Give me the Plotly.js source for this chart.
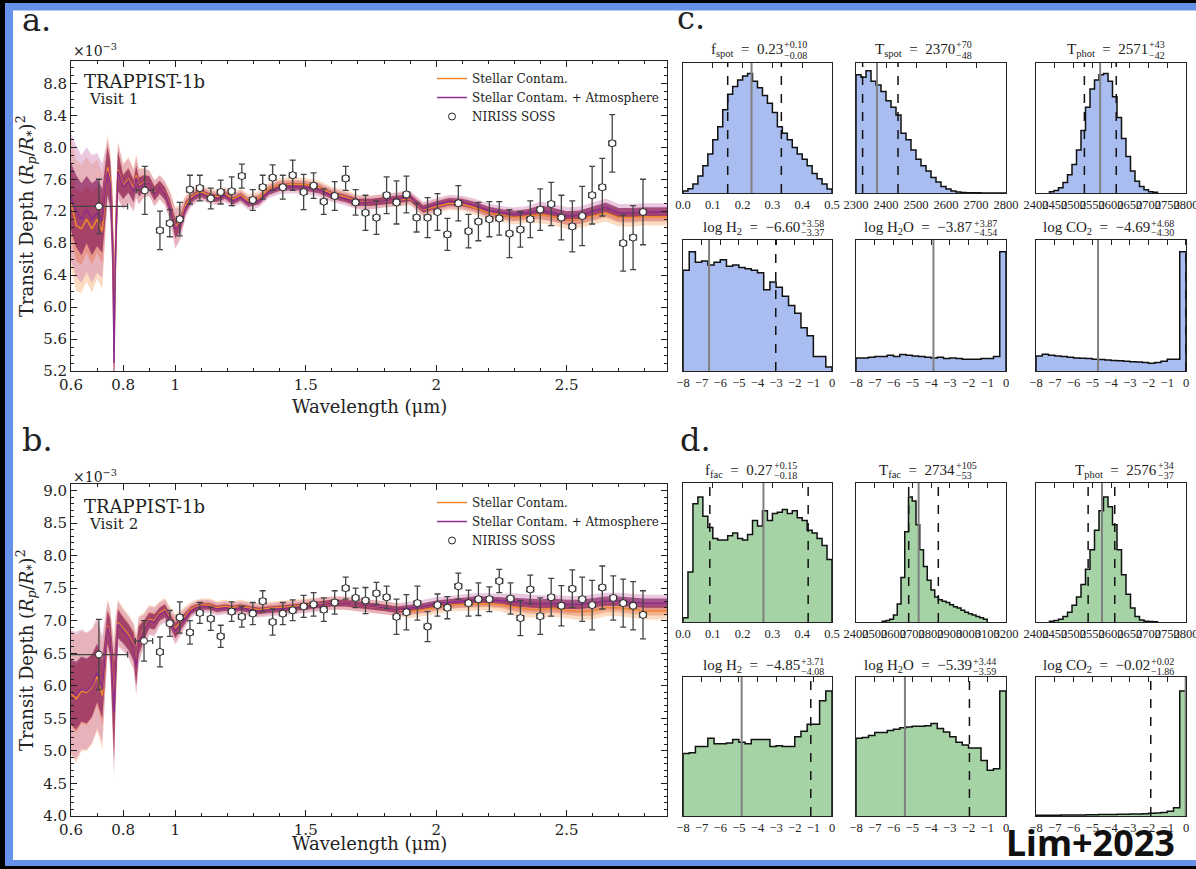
<!DOCTYPE html>
<html><head><meta charset="utf-8">
<script src="https://cdn.plot.ly/plotly-3.0.1.min.js"></script>
<style>html,body{margin:0;padding:0;background:#000;}#plot{width:1196px;height:869px;}</style>
</head><body><div id="plot"></div>
<script>
// ---------------- model grid & spectra ----------------
const WL = [0.60,0.62,0.64,0.66,0.68,0.70,0.72,0.74,0.75,0.76,0.765,0.77,0.78,0.80,0.82,0.84,0.85,0.86,0.88,
0.90,0.92,0.94,0.96,0.98,1.00,1.02,1.04,1.06,1.08,1.10,1.13,1.16,1.19,1.22,1.25,1.28,1.32,1.36,1.40,
1.45,1.50,1.55,1.60,1.65,1.70,1.75,1.80,1.85,1.90,1.95,2.00,2.05,2.10,2.15,2.20,2.25,2.30,2.35,2.40,
2.45,2.50,2.55,2.60,2.65,2.70,2.75,2.80,2.85,2.885];

const V1_ATM = [7.38,7.20,7.10,7.22,7.10,7.18,7.08,7.70,7.55,6.80,5.30,6.60,7.70,7.50,7.58,7.45,7.62,7.50,7.55,
7.55,7.42,7.50,7.42,7.25,6.98,7.05,7.25,7.35,7.40,7.42,7.38,7.36,7.40,7.33,7.38,7.30,7.33,7.45,7.50,
7.51,7.50,7.47,7.40,7.36,7.31,7.31,7.33,7.35,7.37,7.23,7.28,7.32,7.31,7.27,7.21,7.18,7.16,7.18,7.21,
7.18,7.14,7.15,7.20,7.25,7.18,7.18,7.19,7.19,7.19];
const V1_STEL = [7.30,7.02,6.98,7.10,6.98,7.10,6.95,7.75,7.60,6.90,5.50,6.70,7.72,7.52,7.60,7.48,7.65,7.52,7.56,
7.55,7.43,7.50,7.43,7.27,7.00,7.08,7.28,7.37,7.42,7.44,7.40,7.38,7.42,7.35,7.40,7.33,7.36,7.48,7.53,
7.54,7.53,7.50,7.42,7.38,7.32,7.31,7.33,7.34,7.36,7.22,7.26,7.30,7.29,7.24,7.18,7.15,7.12,7.14,7.16,
7.13,7.09,7.10,7.14,7.18,7.12,7.12,7.13,7.13,7.13];
const V1_SIG1 = [0.42,0.45,0.45,0.42,0.45,0.42,0.40,0.30,0.28,0.45,0.60,0.45,0.25,0.15,0.15,0.14,0.15,0.12,0.10,
0.09,0.09,0.08,0.08,0.09,0.12,0.10,0.07,0.05,0.05,0.05,0.045,0.045,0.045,0.045,0.045,0.045,0.045,0.045,0.045,
0.045,0.045,0.045,0.045,0.045,0.045,0.045,0.045,0.045,0.045,0.045,0.045,0.045,0.045,0.045,0.045,0.045,0.045,0.045,0.06,
0.06,0.06,0.06,0.06,0.06,0.06,0.06,0.06,0.06,0.06];
const V1_SIG2 = [0.80,0.82,0.80,0.78,0.80,0.75,0.72,0.40,0.38,0.60,0.75,0.60,0.35,0.28,0.28,0.26,0.26,0.22,0.18,
0.16,0.16,0.15,0.15,0.18,0.25,0.20,0.13,0.10,0.09,0.09,0.085,0.085,0.085,0.085,0.085,0.085,0.085,0.085,0.085,
0.085,0.085,0.085,0.085,0.085,0.085,0.085,0.085,0.085,0.085,0.085,0.085,0.085,0.085,0.085,0.085,0.085,0.085,0.085,0.11,
0.11,0.11,0.11,0.11,0.11,0.11,0.11,0.11,0.11,0.11];

const V2_ATM = [5.90,5.85,5.95,5.92,6.00,6.20,5.95,6.90,6.75,6.00,5.60,6.20,6.95,6.85,6.75,6.60,6.30,6.70,6.85,
7.00,6.98,7.10,7.15,7.00,6.85,6.95,7.05,7.15,7.20,7.22,7.22,7.18,7.20,7.18,7.20,7.18,7.15,7.17,7.18,
7.20,7.22,7.25,7.27,7.27,7.25,7.23,7.20,7.17,7.19,7.22,7.26,7.28,7.30,7.32,7.32,7.31,7.29,7.27,7.26,
7.27,7.25,7.25,7.27,7.30,7.30,7.28,7.27,7.27,7.27];
const V2_STEL = [5.88,5.80,5.92,5.90,5.98,6.15,5.85,6.92,6.78,6.05,5.70,6.25,6.97,6.88,6.78,6.62,6.35,6.72,6.88,
7.02,7.00,7.12,7.17,7.03,6.88,6.98,7.08,7.18,7.22,7.24,7.24,7.20,7.22,7.20,7.22,7.20,7.17,7.19,7.20,
7.22,7.24,7.26,7.27,7.27,7.24,7.22,7.20,7.17,7.14,7.17,7.21,7.24,7.25,7.26,7.26,7.24,7.21,7.18,7.17,
7.19,7.16,7.14,7.15,7.20,7.20,7.17,7.15,7.15,7.15];
const V2_SIG1 = [0.50,0.52,0.50,0.50,0.48,0.45,0.45,0.25,0.28,0.50,0.75,0.50,0.22,0.20,0.20,0.22,0.30,0.22,0.15,
0.12,0.12,0.10,0.10,0.10,0.12,0.10,0.08,0.06,0.05,0.05,0.05,0.05,0.05,0.05,0.05,0.05,0.05,0.05,0.05,
0.05,0.05,0.05,0.05,0.05,0.05,0.05,0.05,0.05,0.05,0.05,0.05,0.05,0.05,0.05,0.05,0.05,0.07,0.07,0.07,
0.07,0.07,0.07,0.07,0.07,0.07,0.07,0.07,0.07,0.07];
const V2_SIG2 = [0.95,0.98,0.92,0.90,0.88,0.85,0.82,0.40,0.42,0.80,1.00,0.80,0.35,0.32,0.32,0.35,0.45,0.35,0.25,
0.22,0.22,0.18,0.18,0.18,0.22,0.18,0.14,0.11,0.10,0.10,0.10,0.10,0.10,0.10,0.10,0.10,0.10,0.10,0.10,
0.10,0.10,0.10,0.10,0.10,0.10,0.10,0.10,0.10,0.10,0.10,0.10,0.10,0.10,0.10,0.10,0.10,0.13,0.13,0.13,
0.13,0.13,0.13,0.13,0.13,0.13,0.13,0.13,0.13,0.13];

// ---------------- NIRISS SOSS data ----------------
const V1_WL = [0.707,0.883,0.941,0.979,1.017,1.056,1.094,1.136,1.174,1.216,1.255,1.297,1.335,1.373,1.412,
1.450,1.492,1.530,1.569,1.611,1.653,1.691,1.729,1.771,1.810,1.848,1.886,1.925,1.967,2.005,2.043,2.085,2.124,
2.162,2.204,2.242,2.281,2.323,2.361,2.399,2.441,2.480,2.522,2.560,2.598,2.637,2.675,2.717,2.755,2.793];
const V1_DEPTH = [7.26,7.46,6.96,7.05,7.10,7.47,7.49,7.36,7.44,7.45,7.64,7.34,7.50,7.62,7.50,
7.65,7.44,7.52,7.32,7.39,7.61,7.31,7.18,7.12,7.40,7.31,7.41,7.12,7.12,7.19,6.91,7.30,6.95,
7.07,7.10,7.11,6.92,6.97,7.10,7.22,7.29,7.12,7.01,7.14,7.40,7.50,8.05,6.80,6.87,7.19];
const V1_ERR = [0.34,0.30,0.24,0.17,0.21,0.18,0.16,0.13,0.15,0.18,0.15,0.13,0.15,0.16,0.15,
0.19,0.22,0.16,0.16,0.18,0.15,0.16,0.22,0.21,0.23,0.27,0.23,0.18,0.25,0.23,0.20,0.22,0.21,
0.24,0.22,0.21,0.30,0.22,0.23,0.26,0.27,0.28,0.32,0.37,0.36,0.36,0.36,0.35,0.40,0.41];
const V1_XERR = [0.11,0.033,0.013,0.013,0.013,0.013,0.013,0.013,0.013,0.013,0.013,0.013,0.013,0.013,0.013,
0.013,0.013,0.013,0.013,0.013,0.013,0.013,0.013,0.013,0.013,0.013,0.013,0.013,0.013,0.013,0.013,0.013,0.013,
0.013,0.013,0.013,0.013,0.013,0.013,0.013,0.013,0.013,0.013,0.013,0.013,0.013,0.013,0.013,0.013,0.013];

const V2_WL = [0.707,0.880,0.941,0.979,1.017,1.056,1.094,1.136,1.174,1.216,1.255,1.297,1.335,1.373,1.412,
1.450,1.492,1.530,1.569,1.611,1.653,1.691,1.729,1.771,1.810,1.848,1.886,1.928,1.967,2.005,2.043,2.085,2.124,
2.162,2.204,2.242,2.285,2.323,2.361,2.399,2.441,2.480,2.522,2.560,2.598,2.637,2.679,2.717,2.755,2.793];
const V2_DEPTH = [6.48,6.69,6.52,6.96,7.05,6.82,7.12,7.03,6.76,7.14,7.06,7.11,7.30,6.98,7.11,
7.16,7.22,7.25,7.17,7.28,7.50,7.35,7.31,7.42,7.36,7.06,7.13,7.27,6.91,7.24,7.20,7.53,7.27,
7.33,7.33,7.61,7.34,7.04,7.48,7.07,7.36,7.23,7.49,7.33,7.24,7.51,7.35,7.27,7.23,7.09];
const V2_ERR = [0.54,0.31,0.23,0.20,0.24,0.18,0.16,0.18,0.17,0.15,0.16,0.17,0.16,0.20,0.17,
0.16,0.17,0.18,0.18,0.18,0.17,0.15,0.20,0.17,0.17,0.27,0.27,0.26,0.23,0.17,0.17,0.20,0.20,
0.25,0.19,0.18,0.24,0.27,0.22,0.28,0.29,0.31,0.29,0.34,0.38,0.33,0.34,0.37,0.37,0.37];
const V2_XERR = V1_XERR;

// ---------------- posterior histograms (bin heights, relative) ----------------
const H_FSPOT = [0.015,0.033,0.07,0.13,0.21,0.30,0.41,0.51,0.64,0.76,0.82,0.87,0.90,0.92,0.86,
0.81,0.75,0.69,0.62,0.51,0.46,0.41,0.35,0.30,0.26,0.21,0.15,0.11,0.07,0.03];
const H_TSPOT = [0.91,0.89,0.94,0.86,0.83,0.78,0.71,0.66,0.60,0.46,0.41,0.33,0.26,0.21,0.17,
0.12,0.085,0.05,0.03,0.015,0.008,0.004,0.002,0.001,0.001,0,0,0,0,0];
const H_TPHOT1 = [0.01,0.02,0.04,0.08,0.14,0.22,0.33,0.48,0.66,0.80,0.87,0.91,0.92,0.86,0.74,0.58,
0.42,0.28,0.17,0.09,0.05,0.025,0.01,0.005];
const H_LOGH2_1 = [0.77,0.91,0.83,0.84,0.81,0.83,0.85,0.80,0.81,0.79,0.78,0.77,0.75,0.62,0.68,0.64,
0.57,0.50,0.44,0.33,0.27,0.11,0.11,0.03];
const H_LOGH2O_1 = [0.10,0.10,0.105,0.11,0.11,0.12,0.11,0.125,0.12,0.115,0.11,0.105,0.10,0.105,0.095,0.10,
0.095,0.09,0.09,0.09,0.095,0.095,0.11,0.91];
const H_LOGCO2_1 = [0.115,0.127,0.12,0.115,0.11,0.105,0.10,0.097,0.095,0.09,0.087,0.084,0.08,0.078,0.075,0.07,
0.068,0.065,0.06,0.065,0.075,0.09,0.09,0.91];
const H_FFAC = [0.03,0.36,0.85,0.90,0.76,0.68,0.60,0.59,0.59,0.62,0.64,0.60,0.59,0.63,0.73,
0.69,0.80,0.73,0.78,0.79,0.81,0.78,0.80,0.75,0.73,0.66,0.64,0.60,0.55,0.45];
const H_TFAC = [0.005,0.01,0.02,0.05,0.13,0.32,0.65,0.90,0.87,0.70,0.52,0.40,0.30,0.23,0.18,0.16,
0.15,0.14,0.125,0.11,0.10,0.085,0.07,0.06,0.05,0.04,0.03,0.02];
const H_TPHOT2 = [0.005,0.01,0.02,0.04,0.07,0.12,0.18,0.27,0.38,0.52,0.66,0.80,0.90,0.83,0.70,0.52,
0.34,0.20,0.10,0.04,0.015,0.006,0.003,0.001];
const H_LOGH2_2 = [0.45,0.455,0.50,0.50,0.56,0.52,0.52,0.525,0.55,0.53,0.52,0.55,0.55,0.55,0.50,0.505,
0.50,0.50,0.57,0.61,0.66,0.66,0.83,0.90];
const H_LOGH2O_2 = [0.56,0.565,0.58,0.60,0.60,0.615,0.625,0.635,0.64,0.645,0.645,0.65,0.665,0.63,0.605,0.57,
0.53,0.51,0.49,0.49,0.40,0.33,0.34,0.90];
const H_LOGCO2_2 = [0.005,0.005,0.006,0.006,0.007,0.007,0.008,0.008,0.009,0.009,0.01,0.01,0.011,0.012,0.013,0.014,
0.015,0.017,0.02,0.022,0.025,0.035,0.06,0.90];

const HIST_HEIGHTS = [H_FSPOT,H_TSPOT,H_TPHOT1,H_LOGH2_1,H_LOGH2O_1,H_LOGCO2_1,
                      H_FFAC,H_TFAC,H_TPHOT2,H_LOGH2_2,H_LOGH2O_2,H_LOGCO2_2];
const HIST_BINSPAN = [[0,0.5],[2300,2800],[2436,2724],[-8,0],[-8,0],[-8,0],
                      [0,0.5],[2540,3100],[2436,2724],[-8,0],[-8,0],[-8,0]];
const HIST_MED = [0.23,2370,2571,-6.60,-3.87,-4.69,0.27,2734,2576,-4.85,-5.39,-0.02];
const HIST_LO  = [0.15,2322,2529,-9.97,-8.41,-8.99,0.09,2681,2539,-8.93,-8.98,-1.88];
const HIST_HI  = [0.33,2440,2614,-3.02,0.00,-0.01,0.42,2839,2610,-1.14,-1.95,0.00];
const HIST_TITLE = ['f<sub>spot</sub>&nbsp; = &nbsp;0.23','T<sub>spot</sub>&nbsp; = &nbsp;2370','T<sub>phot</sub>&nbsp; = &nbsp;2571',
  'log H<sub>2</sub>&nbsp; = &nbsp;−6.60','log H<sub>2</sub>O&nbsp; = &nbsp;−3.87','log CO<sub>2</sub>&nbsp; = &nbsp;−4.69',
  'f<sub>fac</sub>&nbsp; = &nbsp;0.27','T<sub>fac</sub>&nbsp; = &nbsp;2734','T<sub>phot</sub>&nbsp; = &nbsp;2576',
  'log H<sub>2</sub>&nbsp; = &nbsp;−4.85','log H<sub>2</sub>O&nbsp; = &nbsp;−5.39','log CO<sub>2</sub>&nbsp; = &nbsp;−0.02'];
const HIST_PLUS  = ['+0.10','+70','+43','+3.58','+3.87','+4.68','+0.15','+105','+34','+3.71','+3.44','+0.02'];
const HIST_MINUS = ['−0.08','−48','−42','−3.37','−4.54','−4.30','−0.18','−53','−37','−4.08','−3.59','−1.86'];

// tick labels
const TK_FRAC = [0,0.1,0.2,0.3,0.4,0.5], TL_FRAC = ['0.0','0.1','0.2','0.3','0.4','0.5'];
const TK_TSPOT = [2300,2400,2500,2600,2700,2800];
const TK_TPHOT = [2400,2450,2500,2550,2600,2650,2700,2750,2800];
const TK_TFAC = [2400,2500,2600,2700,2800,2900,3000,3100,3200];
const TK_LOG = [-8,-7,-6,-5,-4,-3,-2,-1,0], TL_LOG = ['−8','−7','−6','−5','−4','−3','−2','−1','0'];
const XT = [0.6,0.8,1,1.5,2,2.5], XT_TEXT = ['0.6','0.8','1','1.5','2','2.5'];
const XMINOR = [0.7,0.9,1.1,1.2,1.3,1.4,1.6,1.7,1.8,1.9,2.1,2.2,2.3,2.4,2.6,2.7,2.8];
const YT_A = [5.2,5.6,6.0,6.4,6.8,7.2,7.6,8.0,8.4,8.8];
const YT_B = [4.0,4.5,5.0,5.5,6.0,6.5,7.0,7.5,8.0,8.5,9.0];

// ---------------- layout helpers ----------------
const W = 1196, H = 869;
const fx = p => p / W, fy = p => 1 - p / H;
const SERIF = 'DejaVu Serif, serif';
const SERIF2 = 'Liberation Serif, DejaVu Serif, serif';
const INK = '#222';
const ORANGE = '#f0892a', PURPLE = '#8c2d8c';
const C_OR_OUT = 'rgba(244,164,96,0.38)', C_PU_OUT = 'rgba(200,110,170,0.38)';
const C_OR_IN = 'rgba(230,100,50,0.35)', C_PU_IN = 'rgba(125,15,85,0.62)';

const traces = [];
function band(mid, sig, xa, ya, color) {
  const lo = mid.map((v,i)=>v - sig[i]), hi = mid.map((v,i)=>v + sig[i]);
  traces.push({x:WL, y:lo, xaxis:xa, yaxis:ya, type:'scatter', mode:'lines', line:{width:0}, hoverinfo:'skip', showlegend:false});
  traces.push({x:WL, y:hi, xaxis:xa, yaxis:ya, type:'scatter', mode:'lines', line:{width:0}, fill:'tonexty', fillcolor:color, hoverinfo:'skip', showlegend:false});
}
function spectrum(atm, stel, s1, s2, dwl, dd, derr, dxerr, xa, ya, lg) {
  band(stel, s2, xa, ya, C_OR_OUT);
  band(atm, s2, xa, ya, C_PU_OUT);
  band(stel, s1, xa, ya, C_OR_IN);
  band(atm, s1, xa, ya, C_PU_IN);
  traces.push({x:WL, y:stel, xaxis:xa, yaxis:ya, type:'scatter', mode:'lines', name:'Stellar Contam.', legend:lg, legendrank:1,
    line:{color:ORANGE, width:1.5}});
  traces.push({x:WL, y:atm, xaxis:xa, yaxis:ya, type:'scatter', mode:'lines', name:'Stellar Contam. + Atmosphere', legend:lg, legendrank:2,
    line:{color:PURPLE, width:1.5}});
  traces.push({x:dwl, y:dd, xaxis:xa, yaxis:ya, type:'scatter', mode:'markers', name:'NIRISS SOSS', legend:lg, legendrank:3,
    marker:{symbol:'circle', size:7, color:'white', line:{color:INK, width:1}},
    error_y:{type:'data', array:derr, color:'#444', thickness:1.3, width:3},
    error_x:{type:'data', array:dxerr, color:'#444', thickness:1.3, width:3}});
}
spectrum(V1_ATM, V1_STEL, V1_SIG1, V1_SIG2, V1_WL, V1_DEPTH, V1_ERR, V1_XERR, 'x', 'y', 'legend');
spectrum(V2_ATM, V2_STEL, V2_SIG1, V2_SIG2, V2_WL, V2_DEPTH, V2_ERR, V2_XERR, 'x2', 'y2', 'legend2');

const legendStyle = {xanchor:'left', yanchor:'top', bgcolor:'rgba(0,0,0,0)', font:{family:SERIF, size:12, color:INK}, tracegroupgap:0, traceorder:'normal'};
const layout = {
  width: W, height: H, margin:{l:0,r:0,t:0,b:0},
  paper_bgcolor:'#000', plot_bgcolor:'rgba(0,0,0,0)',
  font:{family:SERIF, color:INK},
  shapes:[], annotations:[],
  legend:Object.assign({x:fx(432), y:fy(64)}, legendStyle),
  legend2:Object.assign({x:fx(432), y:fy(488)}, legendStyle),
};

// frame
layout.shapes.push({type:'rect', xref:'paper', yref:'paper', layer:'below', x0:fx(5), x1:1.01, y0:fy(866), y1:fy(3), fillcolor:'#6592e8', line:{width:0}});
layout.shapes.push({type:'rect', xref:'paper', yref:'paper', layer:'below', x0:fx(13), x1:1.01, y0:fy(860), y1:fy(10.5), fillcolor:'#ffffff', line:{width:0}});

function specAxes(n, y0, y1, yr, yt, ya) {
  const sx = n === 1 ? 'xaxis' : 'xaxis' + n, sy = n === 1 ? 'yaxis' : 'yaxis' + n;
  layout[sx] = {domain:[fx(71), fx(667)], range:[0.6, 2.885], anchor: ya,
    tickmode:'array', tickvals:XT, ticktext:XT_TEXT, ticks:'inside', ticklen:6, tickcolor:INK,
    showline:true, linecolor:INK, linewidth:1, mirror:'ticks', showgrid:false, zeroline:false, tickangle:0,
    tickfont:{family:SERIF, size:15, color:INK},
    minor:{tickmode:'array', tickvals:XMINOR, ticks:'inside', ticklen:3, tickcolor:INK}};
  layout[sy] = {domain:[fy(y1), fy(y0)], range:yr, anchor: n === 1 ? 'x' : 'x' + n,
    tickmode:'array', tickvals:yt, tickformat:'.1f', ticks:'inside', ticklen:6, tickcolor:INK,
    showline:true, linecolor:INK, linewidth:1, mirror:'ticks', showgrid:false, zeroline:false,
    tickfont:{family:SERIF, size:15, color:INK},
    minor:{dtick:0.1, tick0:4.0, ticks:'inside', ticklen:3, tickcolor:INK}};
}
specAxes(1, 61, 371, [5.2, 9.08], YT_A, 'y');
specAxes(2, 484, 816, [4.0, 9.1], YT_B, 'y2');

// histograms
const HX = [[683,832],[856,1006],[1036,1186]];
const HY = [[63,193],[240,371],[483,622],[677,816]];
const HIST_RANGE = [[0,0.5],[2300,2800],[2400,2800],[-8,0],[-8,0],[-8,0],[0,0.5],[2400,3200],[2400,2800],[-8,0],[-8,0],[-8,0]];
const HIST_TV = [TK_FRAC,TK_TSPOT,TK_TPHOT,TK_LOG,TK_LOG,TK_LOG,TK_FRAC,TK_TFAC,TK_TPHOT,TK_LOG,TK_LOG,TK_LOG];
const HIST_TT = [TL_FRAC,TK_TSPOT.map(String),TK_TPHOT.map(String),TL_LOG,TL_LOG,TL_LOG,TL_FRAC,TK_TFAC.map(String),TK_TPHOT.map(String),TL_LOG,TL_LOG,TL_LOG];
const TITLE_Y = [50,228,471,666];
const TITLE_ANCHOR = [783,955,1148, 800,973,1150, 773,955,1157, 800,972,1150];

for (let k = 0; k < 12; k++) {
  const row = Math.floor(k/3), col = k % 3, n = k + 3, m = k + 15;
  const xa = 'x' + n, ya = 'y' + n;
  const fill = row < 2 ? '#aabdf0' : '#a5d3a5';
  const h = HIST_HEIGHTS[k], span = HIST_BINSPAN[k], nb = h.length;
  const edges = []; for (let i = 0; i <= nb; i++) edges.push(span[0] + i*(span[1]-span[0])/nb);
  const xs = [edges[0]], ys = [0];
  for (let i = 0; i < nb; i++) { xs.push(edges[i]); ys.push(h[i]); }
  xs.push(edges[nb]); ys.push(0);
  traces.push({x:xs, y:ys, xaxis:xa, yaxis:ya, type:'scatter', mode:'lines', line:{shape:'hv', color:'#111', width:1.5},
    fill:'tozeroy', fillcolor:fill, showlegend:false, hoverinfo:'skip'});
  traces.push({x:[], y:[], xaxis:'x'+m, yaxis:ya, type:'scatter', mode:'markers', showlegend:false, hoverinfo:'skip'});
  layout['xaxis'+n] = {domain:[fx(HX[col][0]), fx(HX[col][1])], range:HIST_RANGE[k], anchor:ya,
    showline:true, mirror:true, linecolor:INK, linewidth:1.2, ticks:'', tickmode:'array', tickvals:HIST_TV[k], ticktext:HIST_TT[k],
    tickfont:{family:SERIF2, size:12.5, color:INK}, showgrid:false, zeroline:false, tickangle:0, ticklabeloverflow:'allow'};
  layout['xaxis'+m] = {overlaying:xa, anchor:ya, side:'top', range:HIST_RANGE[k], tickmode:'array', tickvals:HIST_TV[k],
    ticks:'inside', ticklen:5, tickcolor:INK, showticklabels:false, showline:false, showgrid:false, zeroline:false};
  layout['yaxis'+n] = {domain:[fy(HY[row][1]), fy(HY[row][0])], range:[0,1], anchor:xa, showline:true, mirror:true,
    linecolor:INK, linewidth:1.2, showticklabels:false, ticks:'', showgrid:false, zeroline:false};
  const r = HIST_RANGE[k];
  const inside = v => v > r[0] && v < r[1];
  if (inside(HIST_MED[k])) layout.shapes.push({type:'line', xref:xa, yref:ya+' domain', x0:HIST_MED[k], x1:HIST_MED[k], y0:0, y1:1, line:{color:'#808080', width:2}});
  [HIST_LO[k], HIST_HI[k]].forEach(v => { if (inside(v)) layout.shapes.push({type:'line', xref:xa, yref:ya+' domain', x0:v, x1:v, y0:0, y1:1, line:{color:'#111', width:1.5, dash:'dash'}}); });
  // titles
  const ax = TITLE_ANCHOR[k], ty = TITLE_Y[row];
  layout.annotations.push({xref:'paper', yref:'paper', x:fx(ax+2), y:fy(ty), text:HIST_TITLE[k], showarrow:false, xanchor:'right', yanchor:'middle', font:{family:SERIF2, size:15, color:INK}});
  layout.annotations.push({xref:'paper', yref:'paper', x:fx(ax-1), y:fy(ty-5), text:HIST_PLUS[k], showarrow:false, xanchor:'left', yanchor:'middle', font:{family:SERIF2, size:10, color:INK}});
  layout.annotations.push({xref:'paper', yref:'paper', x:fx(ax-1), y:fy(ty+5), text:HIST_MINUS[k], showarrow:false, xanchor:'left', yanchor:'middle', font:{family:SERIF2, size:10, color:INK}});
}

function A(px, py, text, size, extra) {
  layout.annotations.push(Object.assign({xref:'paper', yref:'paper', x:fx(px), y:fy(py), text, showarrow:false,
    xanchor:'left', yanchor:'middle', font:{family:SERIF, size, color:INK}}, extra || {}));
}
A(20, 20, 'a.', 32);
A(20, 440, 'b.', 32);
A(675, 18, 'c.', 32);
A(678, 440, 'd.', 32);
A(71, 50, '×10<sup>−3</sup>', 14);
A(71, 476, '×10<sup>−3</sup>', 14);
A(82, 81, 'TRAPPIST-1b', 18);
A(87, 99, 'Visit 1', 15);
A(82, 506, 'TRAPPIST-1b', 18);
A(87, 524, 'Visit 2', 15);
A(369, 406, 'Wavelength (μm)', 18, {xanchor:'center'});
A(369, 843, 'Wavelength (μm)', 18, {xanchor:'center'});
A(26, 216, 'Transit Depth (<i>R<sub>p</sub></i>/<i>R</i><sub>*</sub>)<sup>2</sup>', 18, {xanchor:'center', textangle:-90});
A(26, 650, 'Transit Depth (<i>R<sub>p</sub></i>/<i>R</i><sub>*</sub>)<sup>2</sup>', 18, {xanchor:'center', textangle:-90});
A(1090, 842, '<b>Lim+2023</b>', 36, {xanchor:'center', borderpad:0, font:{family:'Noto Sans, Open Sans, sans-serif', size:36, color:'#111'}});

Plotly.newPlot('plot', traces, layout, {displayModeBar:false, staticPlot:true});
</script></body></html>
